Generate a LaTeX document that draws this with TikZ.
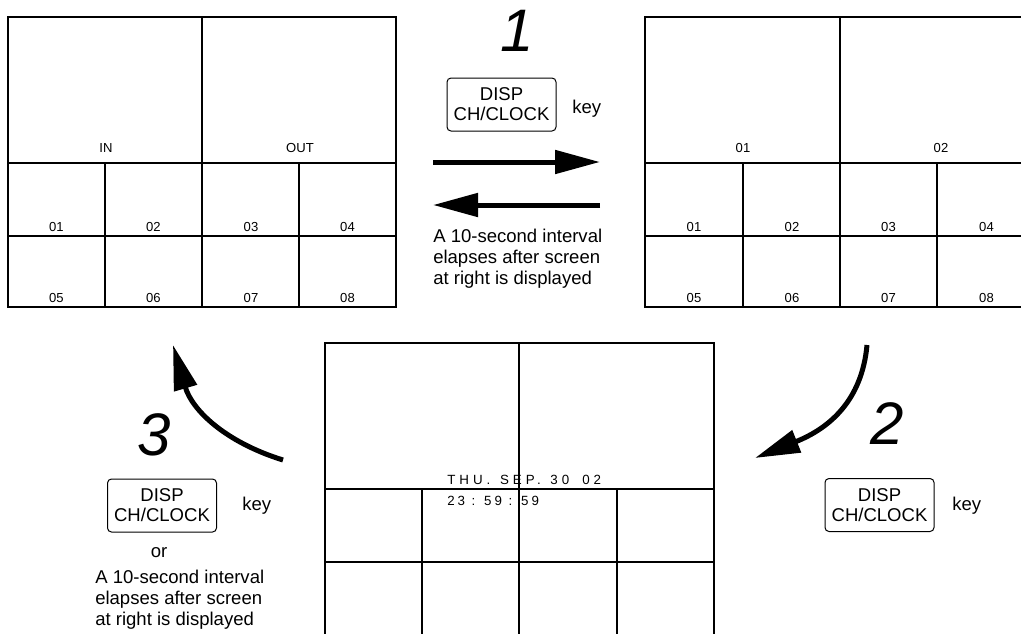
\documentclass[tikz,border=0pt]{standalone}
\usepackage{fontspec}
\setmainfont{Liberation Sans}
\usetikzlibrary{arrows.meta}
\begin{document}
\begin{tikzpicture}[x=0.75pt,y=-0.75pt,
  grid/.style={line width=0.9pt},
  lbl/.style={font=\fontsize{9.8}{11}\selectfont, inner sep=0, anchor=base},
  txt/.style={font=\fontsize{13.9}{15.4}\selectfont, align=left, inner sep=0},
  keybox/.style={draw, rounded corners=3pt, line width=0.75pt, minimum width=81.75pt, minimum height=39.75pt, align=center, font=\fontsize{13.9}{15}\selectfont, inner sep=0},
  keylbl/.style={font=\fontsize{13.9}{15}\selectfont, inner sep=0, anchor=base west},
  bignum/.style={font=\fontsize{45}{46}\itshape\selectfont, inner sep=0},
  datetxt/.style={font=\fontsize{10}{12}\selectfont, inner sep=0, anchor=base west},
  bigarrow/.style={line width=3.75pt, -{Triangle[length=33.75pt,width=17.25pt]}},
]
\useasboundingbox (0,0) rectangle (1021,633);
\clip (0,0) rectangle (1021,633);

% ---- top-left screen ----
\draw[grid] (8,17) rectangle (396,307);
\draw[grid] (202,17) -- (202,307);
\draw[grid] (8,163) -- (396,163);
\draw[grid] (8,236) -- (396,236);
\draw[grid] (105,163) -- (105,307);
\draw[grid] (299,163) -- (299,307);
\node[lbl] (lin) at (106,152) {IN};
\node[lbl] (lout) at (300,152) {OUT};
\node[lbl] (a1) at (56.5,231) {01};
\node[lbl] (a2) at (153.5,231) {02};
\node[lbl] (a3) at (251,231) {03};
\node[lbl] (a4) at (347.5,231) {04};
\node[lbl] (a5) at (56.5,302) {05};
\node[lbl] (a6) at (153.5,302) {06};
\node[lbl] (a7) at (251,302) {07};
\node[lbl] (a8) at (347.5,302) {08};

% ---- top-right screen ----
\draw[grid] (645,17) rectangle (1035,307);
\draw[grid] (840,17) -- (840,307);
\draw[grid] (645,163) -- (1035,163);
\draw[grid] (645,236) -- (1035,236);
\draw[grid] (743,163) -- (743,307);
\draw[grid] (937,163) -- (937,307);
\node[lbl] (bl1) at (743,152) {01};
\node[lbl] (bl2) at (941,152) {02};
\node[lbl] (b1) at (694,231) {01};
\node[lbl] (b2) at (792,231) {02};
\node[lbl] (b3) at (888.5,231) {03};
\node[lbl] (b4) at (986.5,231) {04};
\node[lbl] (b5) at (694,302) {05};
\node[lbl] (b6) at (792,302) {06};
\node[lbl] (b7) at (888.5,302) {07};
\node[lbl] (b8) at (986.5,302) {08};

% ---- bottom screen ----
\draw[grid] (325,343) rectangle (714,640);
\draw[grid] (519,343) -- (519,640);
\draw[grid] (325,489) -- (714,489);
\draw[grid] (325,562) -- (714,562);
\draw[grid] (422,489) -- (422,640);
\draw[grid] (617,489) -- (617,640);
\node[datetxt, font=\addfontfeature{LetterSpace=30}] (date) at (447,484.5) {THU.\hspace{1.5pt} SEP.\hspace{1.5pt} 30\hspace{4pt} 02};
\node[datetxt, font=\addfontfeature{LetterSpace=22}] (time) at (447,505) {23 : 59 : 59};

% ---- step 1 ----
\node[bignum] (n1) at (517,31) {1};
\node[keybox] (k1) at (501.5,104.5) {DISP\\CH/CLOCK};
\node[keylbl] (key1) at (572,113) {key};
\coordinate (r1s) at (433,162);
\coordinate (r1e) at (600,162);
\coordinate (l1s) at (600,205);
\coordinate (l1e) at (433,205);
\draw[bigarrow] (r1s) -- (r1e);
\draw[bigarrow] (l1s) -- (l1e);
\node[txt, anchor=base west] (t1) at (433,284) {A 10-second interval\\elapses after screen\\at right is displayed};

% ---- step 2 ----
\coordinate (c2s) at (867,345);
\coordinate (c2e) at (755,458);
\draw[bigarrow] (c2s) .. controls (862,400) and (830,428) .. (c2e);
\node[bignum] (n2) at (887,424) {2};
\node[keybox] (k2) at (879.5,505) {DISP\\CH/CLOCK};
\node[keylbl] (key2) at (952,510) {key};

% ---- step 3 ----
\coordinate (c3s) at (283,460);
\coordinate (c3e) at (173,345);
\draw[bigarrow] (c3s) .. controls (225,442) and (192,410) .. (c3e);
\node[bignum] (n3) at (154,435) {3};
\node[keybox] (k3) at (162,505.5) {DISP\\CH/CLOCK};
\node[keylbl] (key3) at (242,510) {key};
\node[txt, anchor=base] (or3) at (159,557) {or};
\node[txt, anchor=base west] (t3) at (95,625) {A 10-second interval\\elapses after screen\\at right is displayed};
\end{tikzpicture}
\end{document}
